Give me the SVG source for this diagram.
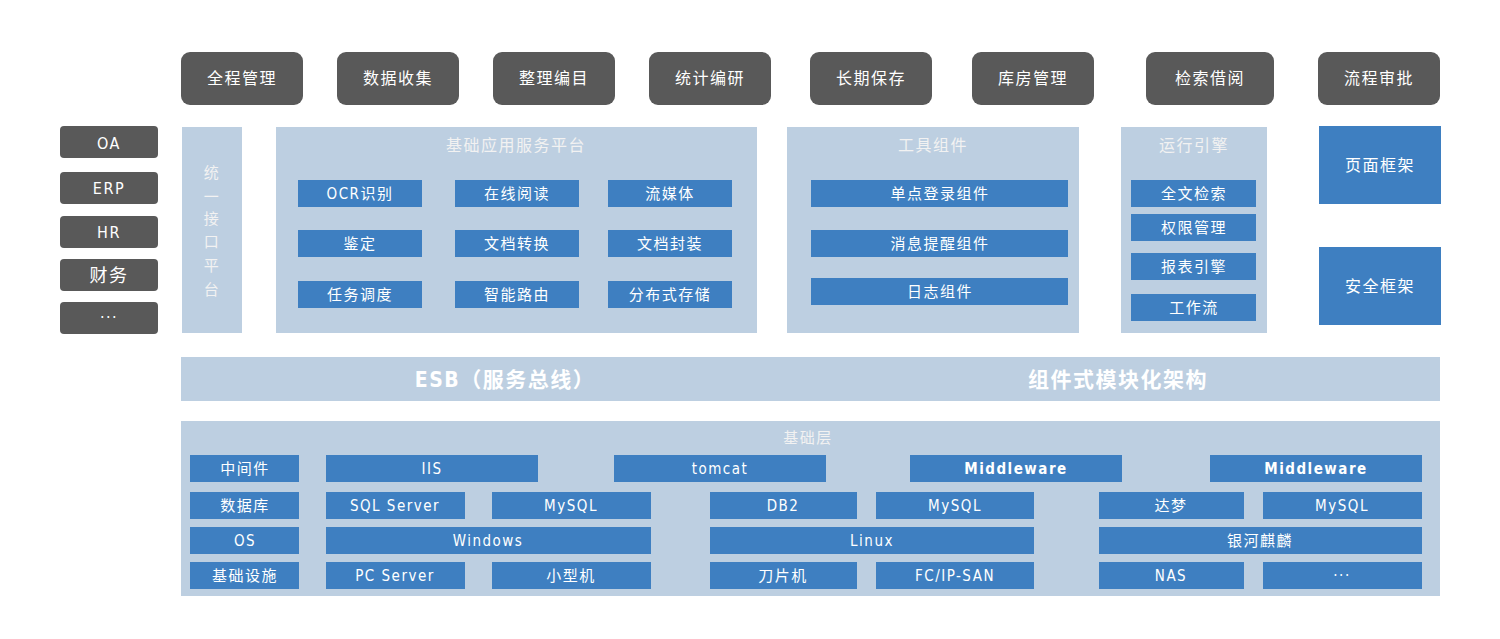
<svg xmlns="http://www.w3.org/2000/svg" width="1500" height="639" viewBox="0 0 1500 639">
<style>
text{font-family:"DejaVu Sans Condensed","Noto Sans CJK SC",sans-serif;fill:#fff;text-anchor:middle;dominant-baseline:central;font-size:15px;letter-spacing:1.5px}
.d{fill:#595959}
.p{fill:#BDCFE1}
.b{fill:#3E7FC1}
.t{font-size:16px}
.h{fill:#f2f2f2}
.big{font-size:21px;font-weight:bold}
</style>
<rect width="1500" height="639" fill="#fff"/>
<g id="top">
<g id="n1"><rect class="d" x="181" y="52" width="122" height="53" rx="9"/><text class="t" x="242" y="78">全程管理</text></g>
<g id="n2"><rect class="d" x="337" y="52" width="122" height="53" rx="9"/><text class="t" x="398" y="78">数据收集</text></g>
<g id="n3"><rect class="d" x="493" y="52" width="122" height="53" rx="9"/><text class="t" x="554" y="78">整理编目</text></g>
<g id="n4"><rect class="d" x="649" y="52" width="122" height="53" rx="9"/><text class="t" x="710" y="78">统计编研</text></g>
<g id="n5"><rect class="d" x="810" y="52" width="122" height="53" rx="9"/><text class="t" x="871" y="78">长期保存</text></g>
<g id="n6"><rect class="d" x="972" y="52" width="122" height="53" rx="9"/><text class="t" x="1033" y="78">库房管理</text></g>
<g id="n7"><rect class="d" x="1146" y="52" width="128" height="53" rx="9"/><text class="t" x="1210" y="78">检索借阅</text></g>
<g id="n8"><rect class="d" x="1318" y="52" width="122" height="53" rx="9"/><text class="t" x="1379" y="78">流程审批</text></g>
</g>
<g id="left">
<g id="oa"><rect class="d" x="60" y="126" width="98" height="32" rx="4"/><text class="t" x="109" y="143">OA</text></g>
<g id="erp"><rect class="d" x="60" y="172" width="98" height="32" rx="4"/><text class="t" x="109" y="188">ERP</text></g>
<g id="hr"><rect class="d" x="60" y="216" width="98" height="32" rx="4"/><text class="t" x="109" y="232">HR</text></g>
<g id="cw"><rect class="d" x="60" y="259" width="98" height="32" rx="4"/><text class="t" x="109" y="275" style="font-size:18px">财务</text></g>
<g id="etc"><rect class="d" x="60" y="302" width="98" height="32" rx="4"/><text class="t" x="109" y="317">···</text></g>
</g>
<g id="iface"><rect class="p" x="182" y="127" width="60" height="206"/>
<text class="h" x="212" y="173">统</text><text class="h" x="212" y="197">一</text><text class="h" x="212" y="219">接</text><text class="h" x="212" y="242">口</text><text class="h" x="212" y="266">平</text><text class="h" x="212" y="290">台</text></g>
<g id="base"><rect class="p" x="276" y="127" width="481" height="206"/><text class="h t" x="516" y="145">基础应用服务平台</text>
<rect class="b" x="298" y="180" width="124" height="27"/><text x="360" y="194">OCR识别</text>
<rect class="b" x="455" y="180" width="124" height="27"/><text x="517" y="194">在线阅读</text>
<rect class="b" x="608" y="180" width="124" height="27"/><text x="670" y="194">流媒体</text>
<rect class="b" x="298" y="230" width="124" height="27"/><text x="360" y="244">鉴定</text>
<rect class="b" x="455" y="230" width="124" height="27"/><text x="517" y="244">文档转换</text>
<rect class="b" x="608" y="230" width="124" height="27"/><text x="670" y="244">文档封装</text>
<rect class="b" x="298" y="281" width="124" height="27"/><text x="360" y="295">任务调度</text>
<rect class="b" x="455" y="281" width="124" height="27"/><text x="517" y="295">智能路由</text>
<rect class="b" x="608" y="281" width="124" height="27"/><text x="670" y="295">分布式存储</text>
</g>
<g id="tools"><rect class="p" x="787" y="127" width="292" height="206"/><text class="h t" x="933" y="145">工具组件</text>
<rect class="b" x="811" y="180" width="257" height="27"/><text x="940" y="194">单点登录组件</text>
<rect class="b" x="811" y="230" width="257" height="27"/><text x="940" y="244">消息提醒组件</text>
<rect class="b" x="811" y="278" width="257" height="27"/><text x="940" y="292">日志组件</text>
</g>
<g id="engine"><rect class="p" x="1121" y="127" width="146" height="206"/><text class="h t" x="1194" y="145">运行引擎</text>
<rect class="b" x="1131" y="180" width="125" height="27"/><text x="1194" y="194">全文检索</text>
<rect class="b" x="1131" y="214" width="125" height="27"/><text x="1194" y="228">权限管理</text>
<rect class="b" x="1131" y="253" width="125" height="27"/><text x="1194" y="267">报表引擎</text>
<rect class="b" x="1131" y="294" width="125" height="27"/><text x="1194" y="308">工作流</text>
</g>
<g id="page"><rect class="b" x="1319" y="126" width="122" height="78"/><text class="t" x="1380" y="165">页面框架</text></g>
<g id="sec"><rect class="b" x="1319" y="247" width="122" height="78"/><text class="t" x="1380" y="286">安全框架</text></g>
<g id="esb"><rect class="p" x="181" y="357" width="1259" height="44"/>
<text class="big" x="505" y="380">ESB（服务总线）</text><text class="big" x="1118" y="380">组件式模块化架构</text></g>
<g id="infra"><rect class="p" x="181" y="421" width="1259" height="175"/><text class="h" x="808" y="438">基础层</text>
<rect class="b" x="190" y="455" width="109" height="27"/><text x="245" y="469">中间件</text>
<rect class="b" x="190" y="492" width="109" height="27"/><text x="245" y="506">数据库</text>
<rect class="b" x="190" y="527" width="109" height="27"/><text x="245" y="541">OS</text>
<rect class="b" x="190" y="562" width="109" height="27"/><text x="245" y="576">基础设施</text>
<rect class="b" x="326" y="455" width="212" height="27"/><text x="432" y="469">IIS</text>
<rect class="b" x="614" y="455" width="212" height="27"/><text x="720" y="469">tomcat</text>
<rect class="b" x="910" y="455" width="212" height="27"/><text x="1016" y="469" font-weight="bold">Middleware</text>
<rect class="b" x="1210" y="455" width="212" height="27"/><text x="1316" y="469" font-weight="bold">Middleware</text>
<rect class="b" x="326" y="492" width="139" height="27"/><text x="395" y="506">SQL Server</text>
<rect class="b" x="492" y="492" width="159" height="27"/><text x="571" y="506">MySQL</text>
<rect class="b" x="710" y="492" width="147" height="27"/><text x="783" y="506">DB2</text>
<rect class="b" x="876" y="492" width="158" height="27"/><text x="955" y="506">MySQL</text>
<rect class="b" x="1099" y="492" width="145" height="27"/><text x="1171" y="506">达梦</text>
<rect class="b" x="1263" y="492" width="159" height="27"/><text x="1342" y="506">MySQL</text>
<rect class="b" x="326" y="527" width="325" height="27"/><text x="488" y="541">Windows</text>
<rect class="b" x="710" y="527" width="324" height="27"/><text x="872" y="541">Linux</text>
<rect class="b" x="1099" y="527" width="323" height="27"/><text x="1260" y="541">银河麒麟</text>
<rect class="b" x="326" y="562" width="139" height="27"/><text x="395" y="576">PC Server</text>
<rect class="b" x="492" y="562" width="159" height="27"/><text x="571" y="576">小型机</text>
<rect class="b" x="710" y="562" width="147" height="27"/><text x="783" y="576">刀片机</text>
<rect class="b" x="876" y="562" width="158" height="27"/><text x="955" y="576">FC/IP-SAN</text>
<rect class="b" x="1099" y="562" width="145" height="27"/><text x="1171" y="576">NAS</text>
<rect class="b" x="1263" y="562" width="159" height="27"/><text x="1342" y="576">···</text>
</g>
<g id="connectors"/>
</svg>
